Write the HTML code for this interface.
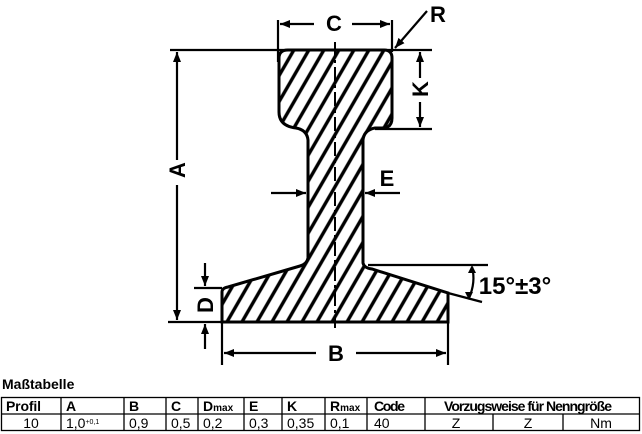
<!DOCTYPE html>
<html><head><meta charset="utf-8"><style>
body{margin:0;width:642px;height:434px;background:#fff;overflow:hidden;position:relative;font-family:"Liberation Sans",Arial,sans-serif}
svg{position:absolute;left:0;top:0}
</style></head><body>
<svg width="642" height="434" viewBox="0 0 642 434">
<defs>
<pattern id="h" patternUnits="userSpaceOnUse" width="13" height="13" patternTransform="rotate(30)">
<rect width="13" height="13" fill="#fff"/><line x1="6.5" y1="-1" x2="6.5" y2="14" stroke="#000" stroke-width="3.4"/>
</pattern>
<marker id="a" markerWidth="10" markerHeight="8" refX="10" refY="4" orient="auto" markerUnits="userSpaceOnUse"><path d="M0,0 L10,4 L0,8 Z"/></marker>
</defs>
<path d="M288,50 L384,50 Q392,50 392,58 L392,118 Q392,128 382,128 L375,128 Q364,130 363,140 L363,263 Q364,268 372,269 L448,293 L448,322 L222,322 L222,292 Q222,288 228,287 L300,266 Q307,264 308,258 L308,140 Q307,130 296,128 Q279,126 279,112 L279,58 Q279,50 288,50 Z" fill="url(#h)" stroke="#000" stroke-width="3"/>
<line x1="335" y1="42" x2="335" y2="328" stroke="#000" stroke-width="2" stroke-dasharray="14,4,3,4"/>
<g stroke="#000" stroke-width="2.2" fill="none">
<line x1="170" y1="50" x2="432" y2="50"/>
<line x1="177" y1="160" x2="177" y2="52" marker-end="url(#a)"/>
<line x1="177" y1="185" x2="177" y2="320" marker-end="url(#a)"/>
<line x1="168" y1="322" x2="222" y2="322"/>
<line x1="278" y1="20" x2="278" y2="62"/><line x1="392" y1="20" x2="392" y2="52"/>
<line x1="314" y1="24" x2="280" y2="24" marker-end="url(#a)"/>
<line x1="352" y1="24" x2="390" y2="24" marker-end="url(#a)"/>
<line x1="427" y1="11" x2="395" y2="48" marker-end="url(#a)"/>
<line x1="375" y1="129" x2="432" y2="129"/>
<line x1="420" y1="78" x2="420" y2="52" marker-end="url(#a)"/>
<line x1="420" y1="102" x2="420" y2="127" marker-end="url(#a)"/>
<line x1="271" y1="193" x2="306" y2="193" marker-end="url(#a)"/>
<line x1="400" y1="193" x2="365" y2="193" marker-end="url(#a)"/>
<line x1="368" y1="265" x2="488" y2="265"/>
<line x1="448" y1="293" x2="482" y2="302"/>
<path d="M472,267 Q476,282 469,298"/>
<line x1="205" y1="263" x2="205" y2="286" marker-end="url(#a)"/>
<line x1="194" y1="288" x2="222" y2="288"/>
<line x1="205" y1="349" x2="205" y2="324" marker-end="url(#a)"/>
<line x1="222" y1="322" x2="222" y2="365"/><line x1="448" y1="322" x2="448" y2="365"/>
<line x1="316" y1="353" x2="224" y2="353" marker-end="url(#a)"/>
<line x1="356" y1="353" x2="446" y2="353" marker-end="url(#a)"/>
</g>
<path d="M472,265 l-4,8 h8 Z M469,300 l-4,-8 h8 Z"/>
<g font-family="Liberation Sans,Arial,sans-serif" font-weight="bold" font-size="22" text-anchor="middle">
<text x="334" y="31">C</text>
<text x="438" y="22">R</text>
<text x="0" y="0" transform="translate(428,89) rotate(-90)">K</text>
<text x="0" y="0" transform="translate(185,170) rotate(-90)">A</text>
<text x="387" y="186">E</text>
<text x="0" y="0" transform="translate(213,305) rotate(-90)">D</text>
<text x="336" y="361">B</text>
<text x="515" y="294" font-size="24">15°±3°</text>
</g>
<text x="2" y="389" font-size="14" font-weight="bold">Maßtabelle</text>
<g stroke="#000" stroke-width="1.3">
<rect x="1.5" y="397.5" width="638" height="33" fill="none"/>
<line x1="1" y1="414" x2="640" y2="414"/>
<line x1="61" y1="397" x2="61" y2="431"/><line x1="124" y1="397" x2="124" y2="431"/>
<line x1="166" y1="397" x2="166" y2="431"/><line x1="198" y1="397" x2="198" y2="431"/>
<line x1="244" y1="397" x2="244" y2="431"/><line x1="282" y1="397" x2="282" y2="431"/>
<line x1="325" y1="397" x2="325" y2="431"/><line x1="367" y1="397" x2="367" y2="431"/>
<line x1="425" y1="397" x2="425" y2="431"/>
<line x1="493" y1="414" x2="493" y2="431"/><line x1="563" y1="414" x2="563" y2="431"/>
</g>
<g font-size="14" font-weight="bold">
<text x="6" y="411" textLength="35">Profil</text><text x="66" y="411">A</text><text x="129" y="411">B</text>
<text x="171" y="411">C</text><text x="203" y="411">D<tspan font-size="10">max</tspan></text>
<text x="249" y="411">E</text><text x="287" y="411">K</text>
<text x="330" y="411">R<tspan font-size="10">max</tspan></text><text x="374" y="411" textLength="31">Code</text>
<text x="444" y="411" textLength="168">Vorzugsweise für Nenngröße</text>
</g>
<g font-size="14">
<text x="31" y="428" text-anchor="middle">10</text>
<text x="66" y="428">1,0<tspan font-size="7" dy="-4">+0,1</tspan></text>
<text x="129" y="428">0,9</text><text x="171" y="428">0,5</text><text x="203" y="428">0,2</text>
<text x="249" y="428">0,3</text><text x="287" y="428">0,35</text><text x="330" y="428">0,1</text>
<text x="374" y="428">40</text>
<text x="456" y="428" text-anchor="middle">Z</text><text x="528" y="428" text-anchor="middle">Z</text>
<text x="601" y="428" text-anchor="middle">Nm</text>
</g>
</svg>
</body></html>
